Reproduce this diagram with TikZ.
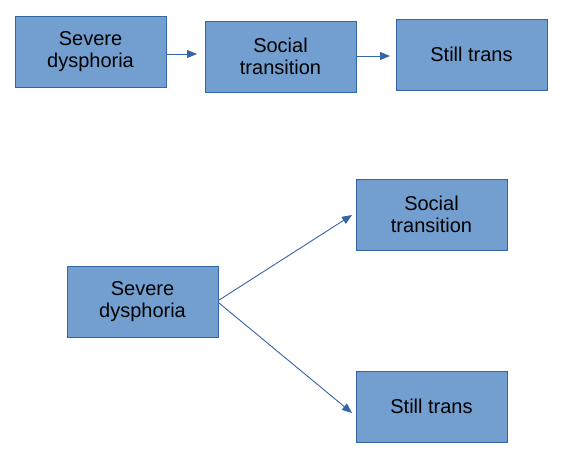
\documentclass[tikz,border=0pt]{standalone}
\usepackage{fontspec}
\setmainfont{Liberation Sans}
\usetikzlibrary{arrows.meta}
\definecolor{boxfill}{HTML}{729FCF}
\definecolor{boxline}{HTML}{3465A4}
\begin{document}
\begin{tikzpicture}[x=1pt,y=-1pt,
  stepbox/.style={draw=boxline,fill=boxfill,line width=0.8pt,minimum width=151pt,minimum height=71pt,
    inner sep=0pt,align=center,font=\fontsize{20}{22}\selectfont},
  conn/.style={draw=boxline,line width=0.9pt,-{Triangle[length=10pt,width=8pt]}}]
\useasboundingbox (0,0) rectangle (561,462);
\node[stepbox] (a1) at (90.5,51.5) {Severe\\dysphoria};
\node[stepbox] (a2) at (280.5,56.5) {Social\\transition};
\node[stepbox] (a3) at (471.5,54.5) {Still trans};
\coordinate (e1) at (197,54);
\coordinate (e2) at (390,56);
\draw[conn] (a1.east |- e1) -- (e1);
\draw[conn] (a2.east |- e2) -- (e2);
\node[stepbox] (b1) at (142.5,301.5) {Severe\\dysphoria};
\node[stepbox] (b2) at (431.5,214.5) {Social\\transition};
\node[stepbox] (b3) at (431.5,406.5) {Still trans};
\coordinate (f2) at (352,215);
\coordinate (f3) at (352,413);
\draw[conn] ([yshift=1pt]b1.east) -- (f2);
\draw[conn] ([yshift=-1pt]b1.east) -- (f3);
\end{tikzpicture}
\end{document}
